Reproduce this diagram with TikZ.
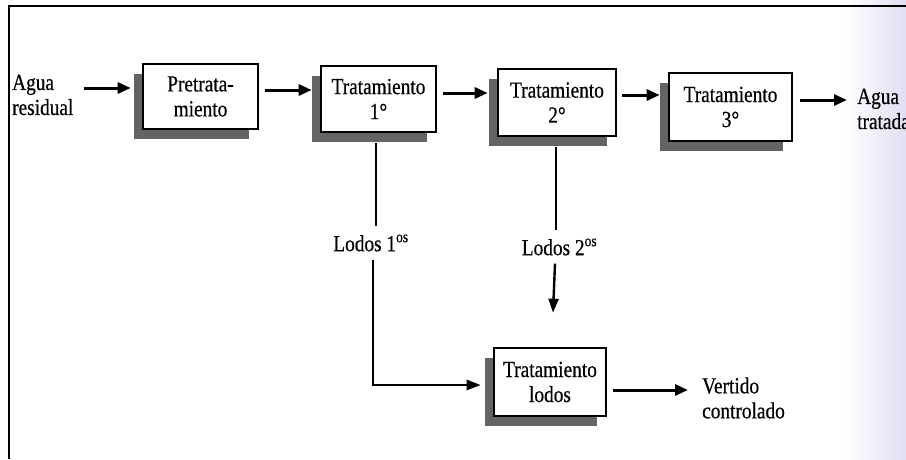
\documentclass[tikz,border=0pt]{standalone}
\usepackage{fontspec}
\setmainfont{Liberation Serif}[FakeStretch=0.84, FakeBold=0.5]
\usetikzlibrary{arrows.meta,shadows,calc}
\definecolor{shd}{RGB}{100,100,100}
\definecolor{fadec}{RGB}{226,221,243}
\begin{document}
\begin{tikzpicture}[x=1pt,y=-1pt,
  txt/.style={font=\fontsize{23}{25}\selectfont},
  box/.style={txt, draw=black, line width=2.6pt, fill=white, align=center, inner sep=0pt,
    drop shadow={shadow xshift=-9pt, shadow yshift=-10pt, fill=shd, opacity=1}},
  lbl/.style={txt, align=left, inner sep=0pt},
  vlbl/.style={txt, inner xsep=0pt, inner ysep=8pt},
  arr/.style={line width=3pt, -{Triangle[length=13pt,width=11pt]}},
  ln/.style={line width=2.2pt},
  lnarr/.style={line width=2.4pt, -{Triangle[length=14pt,width=10pt]}},
]
\useasboundingbox (0,0) rectangle (906,459);
\shade[left color=white, right color=fadec] (845,0) rectangle (906,459);
\draw[line width=2.5pt] (9,459) -- (9,6) -- (906,6);

% boxes
\node[box, minimum width=115pt, minimum height=65pt] (P)  at (200.5,96.5) {Pretrata-\\miento};
\node[box, minimum width=115pt, minimum height=66pt] (T1) at (378.5,99)   {Tratamiento\\1°};
\node[box, minimum width=118pt, minimum height=67pt] (T2) at (557,102.5)  {Tratamiento\\2°};
\node[box, minimum width=123pt, minimum height=68pt] (T3) at (730.5,107)  {Tratamiento\\3°};
\node[box, minimum width=112pt, minimum height=68pt] (TL) at (550,382)    {Tratamiento\\lodos};

% labels
\node[lbl, anchor=west] (AR) at (12,95)  {Agua\\residual};
\node[lbl, anchor=west] (AT) at (857,109) {Agua\\tratada};
\node[lbl, anchor=west] (VC) at (702,398) {Vertido\\controlado};
\node[vlbl] (L1) at (371,243) {Lodos 1\textsuperscript{os}};
\node[vlbl] (L2) at (559.5,247) {Lodos 2\textsuperscript{os}};

% main line arrows
\draw[arr] ($(AR.east)+(10,-7)$) -- ($(P.west)+(-11,-8.5)$);
\draw[arr] ($(P.east)+(6,-6.5)$) -- ($(T1.west)+(-8,-9)$);
\draw[arr] ($(T1.east)+(6,-6)$) -- ($(T2.west)+(-9,-9.5)$);
\draw[arr] ($(T2.east)+(5,-7.5)$) -- ($(T3.west)+(-8,-12)$);
\draw[arr] ($(T3.east)+(7,-7)$) -- ($(AT.west)+(-10,-9)$);

% sludge lines
\draw[ln] ($(T1.south)+(-2.5,10)$) -- ($(T1.south |- L1.north)+(-2.5,0)$);
\draw[lnarr] ($(L1.south)+(2,0)$) |- ($(TL.west)+(-12,3)$);
\draw[ln] ($(T2.south)+(-1,10)$) -- ($(T2.south |- L2.north)+(-1,0)$);
\draw[lnarr] ($(L2.south)+(-4.5,0)$) -- ($(TL.north)+(3,-34)$);
\draw[arr] ($(TL.east)+(6,8)$) -- ($(VC.west)+(-14,-8)$);
\end{tikzpicture}
\end{document}
